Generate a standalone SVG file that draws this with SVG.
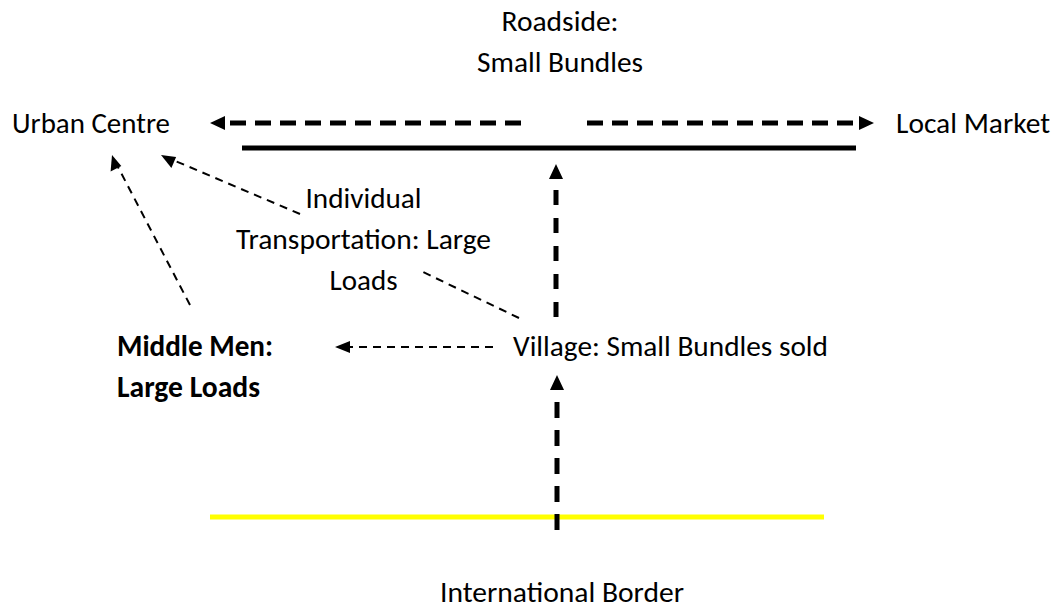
<svg xmlns="http://www.w3.org/2000/svg" width="1054" height="609" viewBox="0 0 1054 609">
  <style>
    .lbl { font-family: Carlito, Lato, "Liberation Sans", sans-serif; font-size: 29.33px; fill: #000; }
    .bold { font-weight: bold; }
    .thick { stroke: #000; stroke-width: 5; fill: none; }
    .thin { stroke: #000; stroke-width: 2; fill: none; stroke-dasharray: 8 6; }
    .head { fill: #000; stroke: none; }
  </style>
  <rect width="1054" height="609" fill="#fff"/>

  <!-- roadside band and border -->
  <line x1="242" y1="148" x2="856" y2="148" stroke="#000" stroke-width="5"/>
  <line x1="210" y1="517" x2="824" y2="517" stroke="#ffff00" stroke-width="5"/>

  <g id="connectors">
    <!-- roadside to urban centre -->
    <path class="thick" d="M521 123 H226" stroke-dasharray="16 9"/>
    <polygon class="head" points="210,123 225,116 225,130"/>
    <!-- roadside to local market -->
    <path class="thick" d="M587 123 H858" stroke-dasharray="16 9"/>
    <polygon class="head" points="874,123 859,116 859,130"/>
    <!-- village up to roadside -->
    <path class="thick" d="M556 190 V317" stroke-dasharray="15 13"/>
    <polygon class="head" points="556,164 549,179 563,179"/>
    <!-- border up to village -->
    <path class="thick" d="M557 402 V531" stroke-dasharray="16 12"/>
    <polygon class="head" points="557,375 550,390 564,390"/>
    <!-- village to middle men -->
    <path class="thin" d="M493 347 H350"/>
    <polygon class="head" points="335,347 350,341 350,353"/>
    <!-- middle men to urban centre -->
    <path class="thin" d="M190 305 L118 167"/>
    <polygon class="head" points="112,155 110.6,171.6 121.3,166"/>
    <!-- individual transport to urban centre -->
    <path class="thin" d="M300 214 L173 160"/>
    <polygon class="head" points="161,155 171.4,168 176.1,157"/>
    <!-- village to individual transport -->
    <path class="thin" d="M519 318 L423 272"/>
  </g>

  <g id="roadside">
    <text class="lbl" x="560" y="31" text-anchor="middle" textLength="117" lengthAdjust="spacingAndGlyphs">Roadside:</text>
    <text class="lbl" x="560" y="72" text-anchor="middle" textLength="166" lengthAdjust="spacingAndGlyphs">Small Bundles</text>
  </g>
  <g id="urban-centre">
    <text class="lbl" x="12" y="133" textLength="158" lengthAdjust="spacingAndGlyphs">Urban Centre</text>
  </g>
  <g id="local-market">
    <text class="lbl" x="896" y="133" textLength="154" lengthAdjust="spacingAndGlyphs">Local Market</text>
  </g>
  <g id="individual-transport">
    <text class="lbl" x="363.5" y="208" text-anchor="middle" textLength="116" lengthAdjust="spacingAndGlyphs">Individual</text>
    <text class="lbl" x="363.5" y="249" text-anchor="middle" textLength="255" lengthAdjust="spacingAndGlyphs">Transportation: Large</text>
    <text class="lbl" x="363.5" y="290" text-anchor="middle" textLength="68" lengthAdjust="spacingAndGlyphs">Loads</text>
  </g>
  <g id="village">
    <text class="lbl" x="513" y="356" textLength="315" lengthAdjust="spacingAndGlyphs">Village: Small Bundles sold</text>
  </g>
  <g id="middle-men">
    <text class="lbl bold" x="117" y="356" textLength="156" lengthAdjust="spacingAndGlyphs">Middle Men:</text>
    <text class="lbl bold" x="117" y="397" textLength="143" lengthAdjust="spacingAndGlyphs">Large Loads</text>
  </g>
  <g id="border">
    <text class="lbl" x="562" y="602" text-anchor="middle" textLength="244" lengthAdjust="spacingAndGlyphs">International Border</text>
  </g>
</svg>
